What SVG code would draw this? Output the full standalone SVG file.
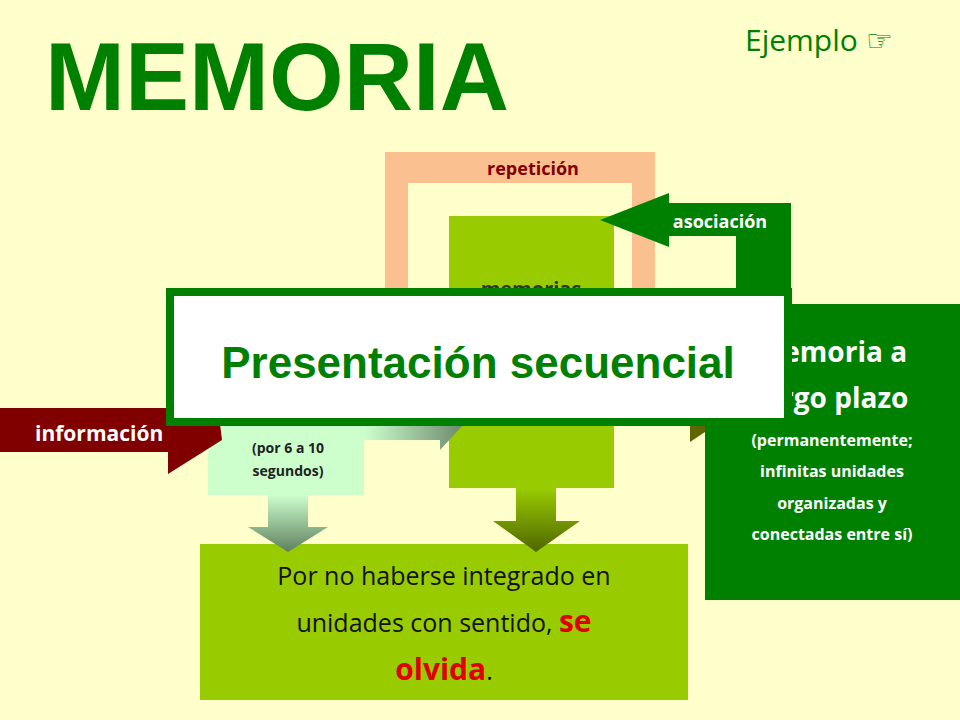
<svg xmlns="http://www.w3.org/2000/svg" width="960" height="720" viewBox="0 0 960 720">
<defs>
<style>
.b{font-family:"Liberation Sans","DejaVu Sans",sans-serif;font-weight:bold}
.c{font-family:"Open Sans","Liberation Sans",sans-serif}
</style>
<linearGradient id="g1" x1="0" y1="0" x2="0" y2="1"><stop offset="0" stop-color="#CCFFCC"/><stop offset="1" stop-color="#5F7F5F"/></linearGradient>
<linearGradient id="g2" x1="0" y1="0" x2="0" y2="1"><stop offset="0" stop-color="#99CC00"/><stop offset="1" stop-color="#4F6600"/></linearGradient>
<linearGradient id="g3" x1="0" y1="0" x2="1" y2="0"><stop offset="0" stop-color="#CCFFCC"/><stop offset="1" stop-color="#6F8A6F"/></linearGradient>
</defs>
<rect width="960" height="720" fill="#FFFFCC"/>
<text x="45" y="110" class="b" font-size="96" fill="#008000">MEMORIA</text>
<text x="745" y="51" class="c" font-size="30" fill="#008000">Ejemplo ☞</text>
<g id="repeticion">
<path d="M385 152H655V300H632V183H408V300H385Z" fill="#FAC090"/>
<text x="533" y="175" class="c" font-weight="bold" font-size="18" fill="#800000" text-anchor="middle">repetición</text>
</g>
<g id="corto"><rect x="449" y="216" width="165" height="272" fill="#99CC00"/>
<text x="531" y="296" class="c" font-weight="bold" font-size="20" fill="#333" text-anchor="middle">memorias</text></g>
<g id="largo"><rect x="705" y="304" width="255" height="296" fill="#008000"/>
<g class="c" font-weight="bold" fill="#fff" text-anchor="middle">
<text x="832" y="362" font-size="28">Memoria a</text>
<text x="832" y="408" font-size="28">largo plazo</text>
<text x="832" y="446" font-size="16">(permanentemente;</text>
<text x="832" y="477" font-size="16">infinitas unidades</text>
<text x="832" y="509" font-size="16">organizadas y</text>
<text x="832" y="540" font-size="16">conectadas entre sí)</text></g></g>
<g id="sensorial"><rect x="208" y="424" width="156" height="71" fill="#CCFFCC"/>
<text x="288" y="453" class="c" font-weight="bold" font-size="14" fill="#222" text-anchor="middle">(por 6 a 10</text>
<text x="288" y="476" class="c" font-weight="bold" font-size="14" fill="#222" text-anchor="middle">segundos)</text></g>
<g id="olvido"><rect x="200" y="544" width="488" height="156" fill="#99CC00"/>
<g class="c" font-size="25" fill="#111" text-anchor="middle">
<text x="444" y="585">Por no haberse integrado en</text>
<text x="444" y="632">unidades con sentido, <tspan fill="#E00000" font-weight="bold" font-size="30">se</tspan></text>
<text x="444" y="680"><tspan fill="#E00000" font-weight="bold" font-size="30">olvida</tspan>.</text></g></g>
<g id="connectors">
<path d="M791 300V203H669V193L600 220L669 247V236H736V300Z" fill="#008000"/>
<text x="720" y="228" class="c" font-weight="bold" font-size="18" fill="#fff" text-anchor="middle">asociación</text>
<path d="M0 408H218L222 440L168 474V452H0Z" fill="#800000"/>
<text x="35" y="441" class="c" font-weight="bold" font-size="21" fill="#fff">información</text>
<path d="M364 426H448L462 426L440 450V440H364Z" fill="url(#g3)"/>
<path d="M690 426H705V432L690 442Z" fill="#5F6600"/>
<path d="M268 495H308V527H328L288 552L248 527H268Z" fill="url(#g1)"/>
<path d="M516 488H556V521H580L536 552L493 521H516Z" fill="url(#g2)"/>
</g>
<g id="presentacion"><rect x="170" y="292" width="618" height="130" fill="#fff" stroke="#008000" stroke-width="8"/>
<text x="478" y="378" class="b" font-size="44" fill="#008000" text-anchor="middle">Presentación secuencial</text></g>
</svg>
